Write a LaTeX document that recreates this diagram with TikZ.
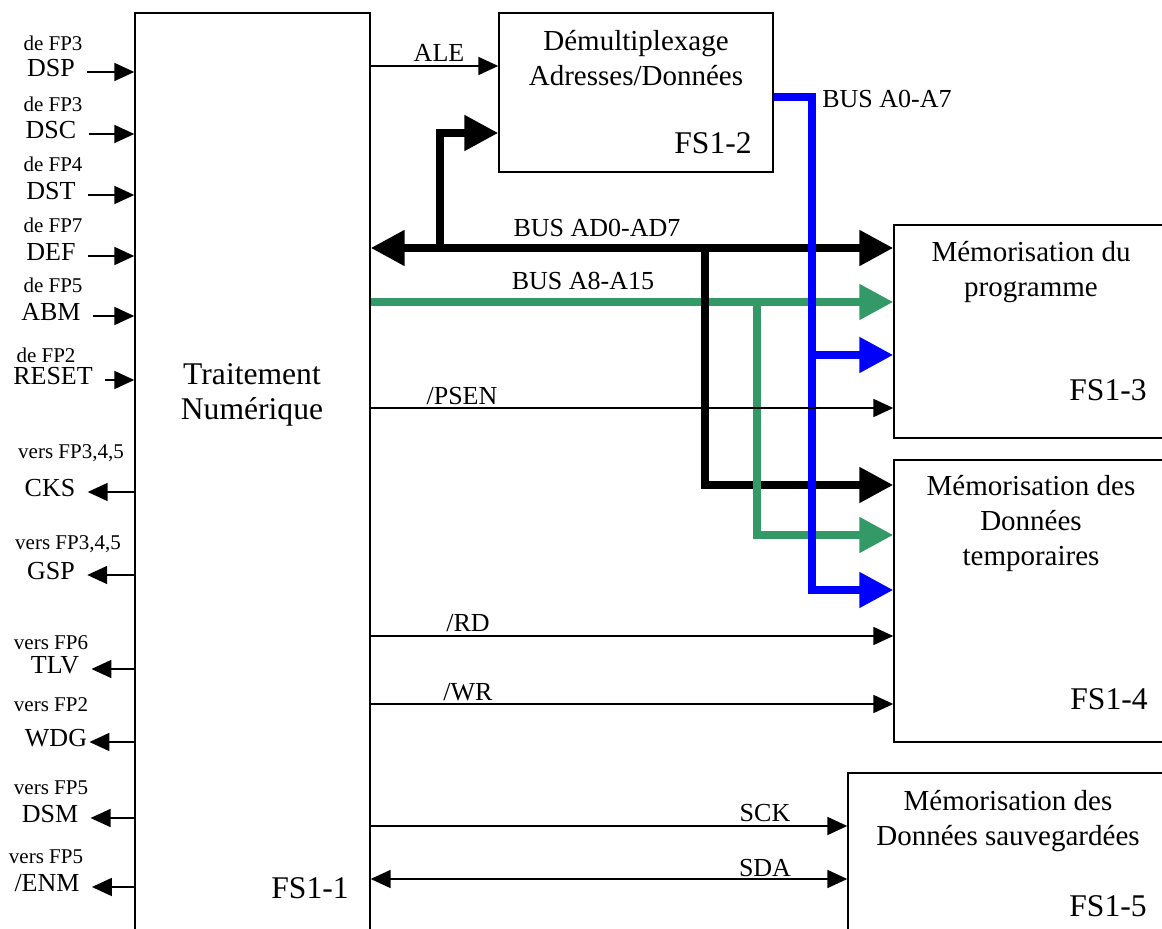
\documentclass[tikz,border=0pt]{standalone}
\usepackage{fontspec}
\setmainfont{Liberation Serif}
\usetikzlibrary{arrows.meta,fit}

\definecolor{busgreen}{RGB}{51,153,102}
\newcommand\blocfont{\fontsize{14.5}{17.5}\selectfont}
\newcommand\bigblocfont{\fontsize{15.8}{17.5}\selectfont}
\newcommand\signalfont{\fontsize{13}{15}\selectfont}
\newcommand\originfont{\fontsize{10.5}{12}\selectfont}

\tikzset{
  SigTip/.tip={Triangle[length=10pt,width=9pt]},
  BusTip/.tip={Triangle[length=17pt,width=17pt]},
}

\begin{document}
\begin{tikzpicture}[x=0.5pt,y=-0.5pt,
    bloc/.style={draw,line width=0.7pt,inner sep=0pt},
    bloctext/.style={font=\blocfont,align=center},
    blocid/.style={font=\bigblocfont},
    sig/.style={font=\signalfont,text height=9pt,text depth=4pt,inner xsep=6pt},
    origin/.style={font=\originfont,inner sep=0pt},
    lbl/.style={font=\signalfont,inner sep=0pt},
    wire/.style={line width=0.9pt,-SigTip},
    bus/.style={line width=4pt,line join=miter}]
  \useasboundingbox (0,0) rectangle (1162,929);
  \clip (0,0) rectangle (1162,929);

  % blocs fonctionnels
  \node[bloc,fit={(135,13) (370,945)}]  (fs11) {};
  \node[bloc,fit={(499,13) (773,172)}]  (fs12) {};
  \node[bloc,fit={(894,225) (1175,438)}] (fs13) {};
  \node[bloc,fit={(894,460) (1175,742)}] (fs14) {};
  \node[bloc,fit={(848,773) (1175,945)}] (fs15) {};

  % textes des blocs
  \node[bloctext,font=\bigblocfont] (tnName) at (252,395) {Traitement\\Numérique};
  \node[blocid] (tnId)       at (310,888) {FS1-1};
  \node[bloctext] (demName)  at (636,58)  {Démultiplexage\\Adresses/Données};
  \node[blocid] (demId)      at (713,143) {FS1-2};
  \node[bloctext] (progName) at (1031,272) {Mémorisation du\\programme};
  \node[blocid] (progId)     at (1108,390) {FS1-3};
  \node[bloctext] (tempName) at (1031,524) {Mémorisation des\\Données\\temporaires};
  \node[blocid] (tempId)     at (1109,699) {FS1-4};
  \node[bloctext] (sauvName) at (1008,821) {Mémorisation des\\Données sauvegardées};
  \node[blocid] (sauvId)     at (1108,906) {FS1-5};

  % entrees
  \node[origin] (dspSrc) at (53,43) {de FP3};
  \node[sig] (dsp) at (51,72) {DSP};
  \node[origin] (dscSrc) at (53,104) {de FP3};
  \node[sig] (dsc) at (51,134) {DSC};
  \node[origin] (dstSrc) at (53,164) {de FP4};
  \node[sig] (dst) at (51,195) {DST};
  \node[origin] (defSrc) at (53,225) {de FP7};
  \node[sig] (def) at (51,256) {DEF};
  \node[origin] (abmSrc) at (53,285) {de FP5};
  \node[sig] (abm) at (51,316) {ABM};
  \node[origin] (rstSrc) at (46,355) {de FP2};
  \node[sig] (rst) at (53,380) {RESET};
  \draw[wire] (dsp.east) -- (dsp.east -| fs11.west);
  \draw[wire] (dsc.east) -- (dsc.east -| fs11.west);
  \draw[wire] (dst.east) -- (dst.east -| fs11.west);
  \draw[wire] (def.east) -- (def.east -| fs11.west);
  \draw[wire] (abm.east) -- (abm.east -| fs11.west);
  \draw[wire] (rst.east) -- (rst.east -| fs11.west);

  % sorties
  \node[origin] (cksDst) at (71,453) {vers FP3,4,5};
  \node[sig] (cks) at (50,492) {CKS};
  \node[origin] (gspDst) at (68,544) {vers FP3,4,5};
  \node[sig] (gsp) at (51,575) {GSP};
  \node[origin] (tlvDst) at (51,643) {vers FP6};
  \node[sig] (tlv) at (55,669) {TLV};
  \node[origin] (wdgDst) at (51,705) {vers FP2};
  \node[sig,inner xsep=1pt] (wdg) at (56,742) {WDG};
  \node[origin] (dsmDst) at (51,788) {vers FP5};
  \node[sig] (dsm) at (50,818) {DSM};
  \node[origin] (enmDst) at (46,857) {vers FP5};
  \node[sig] (enm) at (47,887) {/ENM};
  \draw[wire] (cks.east -| fs11.west) -- (cks.east);
  \draw[wire] (gsp.east -| fs11.west) -- (gsp.east);
  \draw[wire] (tlv.east -| fs11.west) -- (tlv.east);
  \draw[wire] (wdg.east -| fs11.west) -- (wdg.east);
  \draw[wire] (dsm.east -| fs11.west) -- (dsm.east);
  \draw[wire] (enm.east -| fs11.west) -- (enm.east);

  % noms des liaisons
  \node[lbl] (ale)  at (439,53)  {ALE};
  \node[lbl] (adBus) at (597,228) {BUS AD0-AD7};
  \node[lbl] (aBus) at (583,281) {BUS A8-A15};
  \node[lbl] (loBus) at (887,99) {BUS A0-A7};
  \node[lbl] (psen) at (462,396) {/PSEN};
  \node[lbl] (rd)   at (468,623) {/RD};
  \node[lbl] (wr)   at (468,692) {/WR};
  \node[lbl] (sck)  at (765,813) {SCK};
  \node[lbl] (sda)  at (765,868) {SDA};

  % ALE
  \draw[wire] (fs11.east |- 0,66) -- (fs12.west |- 0,66);

  % bus AD0-AD7
  \coordinate (adUp) at (440,248);
  \coordinate (adDown) at (705,248);
  \draw[bus,BusTip-BusTip] (fs11.east |- adUp) -- (fs13.west |- adUp);
  \draw[bus,-BusTip] (adUp) |- (fs12.west |- 0,133);

  % bus A8-A15
  \coordinate (aDown) at (757,302);
  \draw[bus,busgreen,-BusTip] (fs11.east |- aDown) -- (fs13.west |- aDown);

  % branches vers FS1-4
  \draw[bus,-BusTip] (adDown) |- (fs14.west |- 0,485);
  \draw[bus,busgreen,-BusTip] (aDown) |- (fs14.west |- 0,535);

  % bus A0-A7
  \coordinate (loKnee) at (812,97);
  \coordinate (loTap) at (812,355);
  \coordinate (loEnd) at (812,590);
  \draw[bus,blue,-BusTip] (fs12.east |- loKnee) -- (loKnee) -- (loEnd) -- (fs14.west |- loEnd);
  \draw[bus,blue,-BusTip] (loTap) -- (fs13.west |- loTap);

  % commandes
  \draw[wire] (fs11.east |- 0,408) -- (fs13.west |- 0,408);
  \draw[wire] (fs11.east |- 0,636) -- (fs14.west |- 0,636);
  \draw[wire] (fs11.east |- 0,704) -- (fs14.west |- 0,704);
  \draw[wire] (fs11.east |- 0,826) -- (fs15.west |- 0,826);
  \draw[wire,SigTip-SigTip] (fs11.east |- 0,879) -- (fs15.west |- 0,879);
\end{tikzpicture}
\end{document}
